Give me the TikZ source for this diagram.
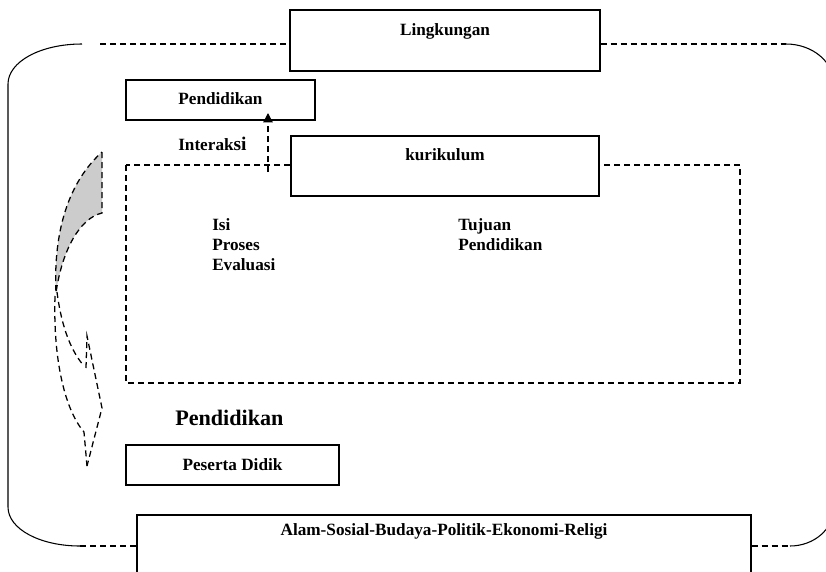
\documentclass[tikz,border=0pt]{standalone}
\usepackage{fontspec}
\setmainfont{Liberation Serif}
\usetikzlibrary{arrows.meta}
\tikzset{
  x=0.75pt, y=-0.75pt,
  solidline/.style={line width=0.8pt, black},
  dashline/.style={line width=0.95pt, black, dash pattern=on 4.5pt off 3pt},
  boxnode/.style={draw, line width=0.8pt, fill=white, inner sep=0pt, rectangle},
  lbl/.style={font=\fontsize{12.9}{15}\selectfont\bfseries, inner sep=0pt},
  biglbl/.style={font=\fontsize{16.6}{19}\selectfont\bfseries, inner sep=0pt}
}
\begin{document}
\begin{tikzpicture}
\clip (0,0) rectangle (826,572);
\fill[white] (0,0) rectangle (826,572);

% outer frame
\coordinate (tl) at (82,44);
\coordinate (tld) at (100,44);
\coordinate (trd) at (786,44);
\coordinate (bl) at (80,546);
\coordinate (br) at (790,546);
\draw[solidline] (tl) .. controls (40,44) and (8,62) .. (8,84) -- (8,507)
  .. controls (8,529) and (40,546) .. (bl);
\draw[solidline] (trd) .. controls (812.5,44) and (834,62) .. (834,84) -- (834,507)
  .. controls (834,529) and (814,546) .. (br);

% dashed inner rectangle
\draw[dashline] (126,165) rectangle (740,383);

% boxes
\node[boxnode, minimum width=232.5pt, minimum height=45.75pt] (ling) at (445,40.5) {};
\node[lbl, anchor=base] (lingt) at (445,35) {Lingkungan};
\node[boxnode, minimum width=141.75pt, minimum height=30pt] (pend) at (220.5,100) {};
\node[lbl] (pendt) at (220.5,99) {Pendidikan};
\node[boxnode, minimum width=231pt, minimum height=45pt] (kur) at (445,166) {};
\node[lbl, anchor=base] (kurt) at (445,160) {kurikulum};
\node[boxnode, minimum width=159.75pt, minimum height=30pt] (pes) at (232.5,465) {};
\node[lbl] (pest) at (232.5,465) {Peserta Didik};
\node[boxnode, minimum width=460.5pt, minimum height=63.75pt] (alam) at (444,557.5) {};
\node[lbl, anchor=base] (alamt) at (444,535) {Alam-Sosial-Budaya-Politik-Ekonomi-Religi};

% dashed links of frame into boxes
\draw[dashline] (tld) -- (ling.west |- tld);
\draw[dashline] (ling.east |- trd) -- (trd);
\draw[dashline] (bl) -- (alam.west |- bl);
\draw[dashline] (alam.east |- br) -- (br);

% interaction arrow
\coordinate (a1) at (268,172);
\coordinate (a2) at (268,113);
\draw[dashline, -{Triangle[length=7pt,width=7pt]}] (a1) -- (a2);
\node[anchor=base west, inner sep=0pt] (inter) at (178,150)
  {\bfseries\fontsize{12.9}{15}\selectfont Interak\fontsize{14.5}{15}\selectfont si};

% texts inside
\node[lbl, anchor=base west] (isi) at (212,230) {Isi};
\node[lbl, anchor=base west] (proses) at (212,250) {Proses};
\node[lbl, anchor=base west] (eval) at (212,270) {Evaluasi};
\node[lbl, anchor=base west] (tuj) at (458,230) {Tujuan};
\node[lbl, anchor=base west] (tujp) at (458,250) {Pendidikan};
\node[biglbl, anchor=base west] (bigp) at (175,425) {Pendidikan};

% curved arrow shape on the left
\draw[dashline, fill=black!20] (102,152) -- (102,213)
  .. controls (80,218) and (62,250) .. (56,293)
  .. controls (54,250) and (60,190) .. (102,152) -- cycle;
\draw[dashline] (57,292) .. controls (62,330) and (72,352) .. (84,366);
\draw[dashline] (86,368) -- (87,336) -- (102,408) -- (87,466);
\draw[dashline] (55,296) .. controls (53,360) and (65,410) .. (84,432) -- (87,466);
\end{tikzpicture}
\end{document}
